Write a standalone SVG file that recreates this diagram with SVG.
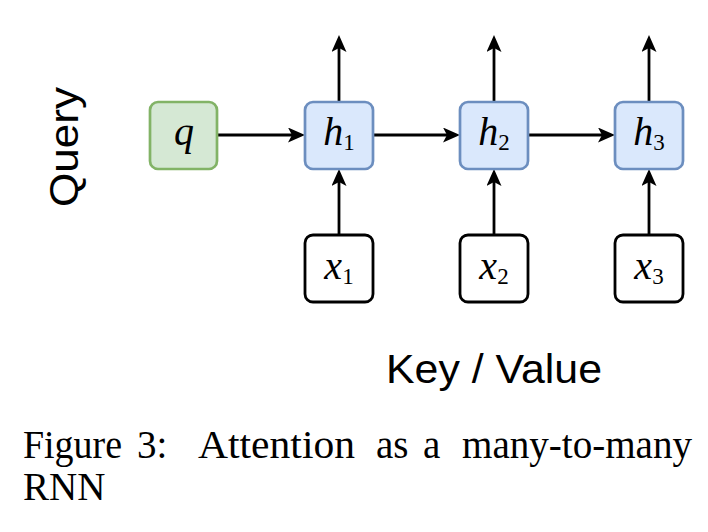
<svg xmlns="http://www.w3.org/2000/svg" width="708" height="532" viewBox="0 0 708 532">
<style>
.q{fill:#d5e8d4;stroke:#82b366;stroke-width:2.7}
.h{fill:#dae8fc;stroke:#6c8ebf;stroke-width:2.7}
.x{fill:#ffffff;stroke:#000000;stroke-width:2.8}
.m{font-family:"Liberation Serif",serif;font-size:40px;fill:#000}
.mi{font-style:italic}
.sub{font-size:23px}
.lbl{font-family:"Liberation Sans",Arial,sans-serif;font-size:41px;fill:#000}
.cap{font-family:"Liberation Serif",serif;font-size:39px;fill:#000}
.c{stroke:#000;stroke-width:2.8;fill:none;marker-end:url(#ah)}
</style>
<defs>
<marker id="ah" viewBox="0 0 17 15" refX="4" refY="7.5" markerWidth="17" markerHeight="15" orient="auto" markerUnits="userSpaceOnUse">
<path d="M0,0 L17,7.5 L0,15 L4,7.5 Z" fill="#000"/>
</marker>
</defs>
<rect width="708" height="532" fill="#fff"/>
<g id="connectors">
<line class="c" x1="218" y1="135" x2="292" y2="135"/>
<line class="c" x1="373" y1="135" x2="447" y2="135"/>
<line class="c" x1="528" y1="135" x2="602" y2="135"/>
<line class="c" x1="339" y1="101" x2="339" y2="48"/>
<line class="c" x1="494" y1="101" x2="494" y2="48"/>
<line class="c" x1="649" y1="101" x2="649" y2="48"/>
<line class="c" x1="339" y1="234" x2="339" y2="182"/>
<line class="c" x1="494" y1="234" x2="494" y2="182"/>
<line class="c" x1="649" y1="234" x2="649" y2="182"/>
</g>
<g id="q">
<rect class="q" x="150" y="102" width="67" height="67" rx="8"/>
<text class="m" x="184" y="145" text-anchor="middle"><tspan class="mi">q</tspan></text>
</g>
<g id="h1">
<rect class="h" x="305" y="102" width="68" height="67" rx="8"/>
<text class="m" x="339" y="145" text-anchor="middle"><tspan class="mi">h</tspan><tspan class="sub" dy="5">1</tspan></text>
</g>
<g id="h2">
<rect class="h" x="460" y="102" width="68" height="67" rx="8"/>
<text class="m" x="494" y="145" text-anchor="middle"><tspan class="mi">h</tspan><tspan class="sub" dy="5">2</tspan></text>
</g>
<g id="h3">
<rect class="h" x="615" y="102" width="68" height="67" rx="8"/>
<text class="m" x="649" y="145" text-anchor="middle"><tspan class="mi">h</tspan><tspan class="sub" dy="5">3</tspan></text>
</g>
<g id="x1">
<rect class="x" x="305" y="235" width="68" height="67" rx="8"/>
<text class="m" x="339" y="279" text-anchor="middle"><tspan class="mi">x</tspan><tspan class="sub" dy="5">1</tspan></text>
</g>
<g id="x2">
<rect class="x" x="460" y="235" width="68" height="67" rx="8"/>
<text class="m" x="494" y="279" text-anchor="middle"><tspan class="mi">x</tspan><tspan class="sub" dy="5">2</tspan></text>
</g>
<g id="x3">
<rect class="x" x="615" y="235" width="68" height="67" rx="8"/>
<text class="m" x="649" y="279" text-anchor="middle"><tspan class="mi">x</tspan><tspan class="sub" dy="5">3</tspan></text>
</g>
<g id="query-label">
<text class="lbl" transform="rotate(-90)" x="-147" y="78" text-anchor="middle" textLength="120" lengthAdjust="spacingAndGlyphs">Query</text>
</g>
<g id="kv-label">
<text class="lbl" x="386" y="383" textLength="216" lengthAdjust="spacingAndGlyphs">Key / Value</text>
</g>
<g id="caption">
<text class="cap" x="23" y="458" textLength="99" lengthAdjust="spacingAndGlyphs">Figure</text>
<text class="cap" x="137" y="458">3:</text>
<text class="cap" x="198" y="458" textLength="157" lengthAdjust="spacingAndGlyphs">Attention</text>
<text class="cap" x="376" y="458">as</text>
<text class="cap" x="423" y="458">a</text>
<text class="cap" x="462" y="458" textLength="230" lengthAdjust="spacingAndGlyphs">many-to-many</text>
<text class="cap" x="23" y="500">RNN</text>
</g>
</svg>
